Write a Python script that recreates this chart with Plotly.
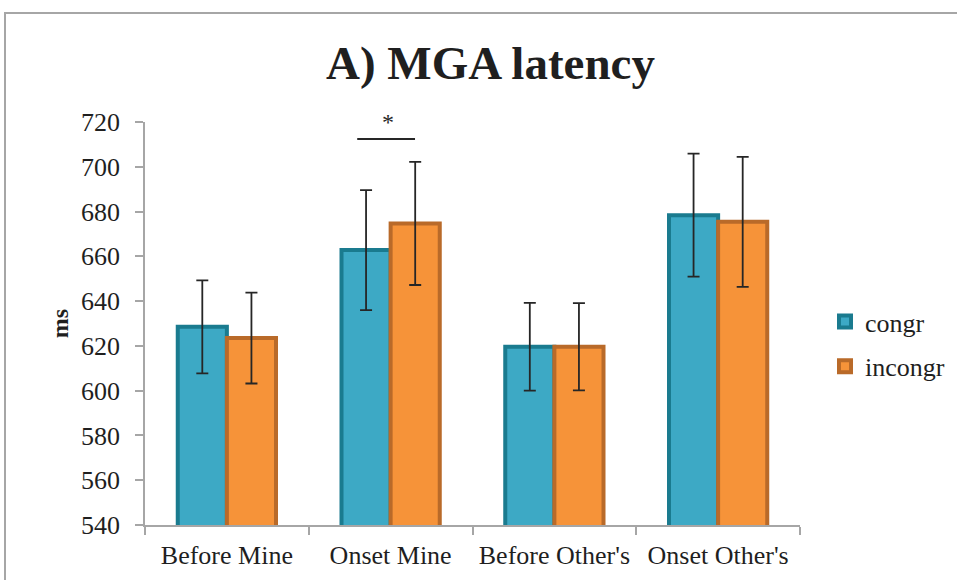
import plotly.graph_objects as go

categories = ["Before Mine", "Onset Mine", "Before Other's", "Onset Other's"]
congr = [628.5, 662.8, 619.6, 678.4]
congr_err = [20.8, 26.8, 19.6, 27.5]
incongr = [623.5, 674.7, 619.6, 675.4]
incongr_err = [20.3, 27.5, 19.5, 29.0]
y_ticks = list(range(540, 721, 20))

W, H = 957, 580
L, R, T, B = 145, 157, 122, 55
pw, ph = W - L - R, H - T - B


def px(x):
    return (x - L) / pw


def py(y):
    return (H - B - y) / ph


FONT = "Liberation Serif"
ERRC = "#262626"
TXT = "#1f1f1f"

fig = go.Figure()
fig.add_trace(go.Bar(
    x=categories, y=congr, name="congr", legendgroup="a",
    marker=dict(color="#3DA9C5", line=dict(color="#1A7B8F", width=4)),
    error_y=dict(type="data", array=congr_err, color=ERRC, thickness=1.8, width=6),
))
fig.add_trace(go.Bar(
    x=categories, y=incongr, name="incongr", legendgroup="b",
    marker=dict(color="#F69339", line=dict(color="#B96A29", width=4)),
    error_y=dict(type="data", array=incongr_err, color=ERRC, thickness=1.8, width=6),
))

fig.update_layout(
    width=W, height=H,
    margin=dict(l=L, r=R, t=T, b=B, autoexpand=False),
    plot_bgcolor="white", paper_bgcolor="white",
    barmode="group", bargap=0.4, bargroupgap=0,
    font=dict(family=FONT, size=26, color=TXT),
    showlegend=True,
    legend=dict(x=px(825), y=py(298), xanchor="left", yanchor="top",
                font=dict(family=FONT, size=26, color=TXT),
                tracegroupgap=8, bgcolor="rgba(0,0,0,0)"),
    xaxis=dict(showline=True, linecolor="#A6A6A6", linewidth=1.5,
               ticks="outside", tickson="boundaries", ticklen=8,
               tickcolor="#A6A6A6", tickwidth=1.5, showgrid=False,
               ticklabelstandoff=6, tickangle=0, automargin=False,
               tickfont=dict(family=FONT, size=26, color=TXT)),
    yaxis=dict(range=[540, 720], tickvals=y_ticks, showline=True,
               linecolor="#A6A6A6", linewidth=1.5, ticks="outside", ticklen=8,
               tickcolor="#A6A6A6", tickwidth=1.5, showgrid=False, zeroline=False,
               ticklabelstandoff=10, automargin=False,
               tickfont=dict(family=FONT, size=26, color=TXT),
               title=dict(text="<b>ms</b>", font=dict(family=FONT, size=24, color=TXT),
                          standoff=6)),
)

# significance marker
fig.add_shape(type="line", xref="x", yref="y", x0=0.796, x1=1.149, y0=712.4, y1=712.4,
              line=dict(color=ERRC, width=2))
fig.add_annotation(x=0.985, y=713.2, xref="x", yref="y", text="*", showarrow=False,
                   yanchor="bottom", font=dict(family=FONT, size=24, color=ERRC))

# title
fig.add_annotation(x=px(490), y=py(63), xref="paper", yref="paper",
                   text="<b>A) MGA latency</b>", showarrow=False,
                   xanchor="center", yanchor="middle",
                   font=dict(family=FONT, size=47, color=TXT))

# outer border
fig.add_shape(type="rect", xref="paper", yref="paper",
              x0=px(5), x1=px(975), y0=py(595), y1=py(13),
              line=dict(color="#A6A6A6", width=2), fillcolor="rgba(0,0,0,0)", layer="below")

fig.write_html("out.html", config={"displayModeBar": False},
               post_script="document.body.style.margin='0';document.body.style.overflow='hidden';")
